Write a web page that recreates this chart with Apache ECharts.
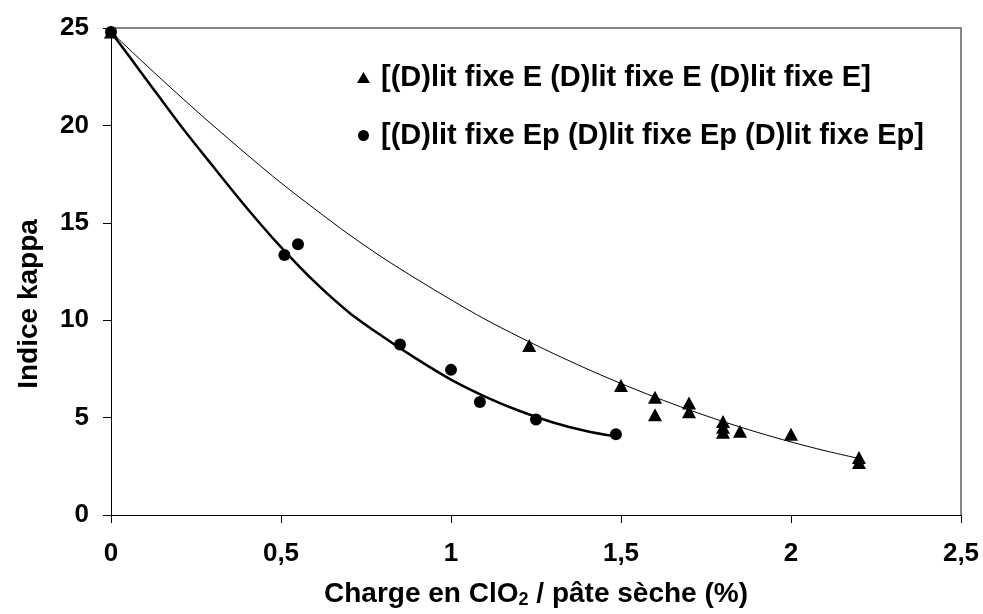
<!DOCTYPE html>
<html>
<head>
<meta charset="utf-8">
<script src="https://cdn.jsdelivr.net/npm/echarts@6/dist/echarts.min.js"></script>
<style>
  html, body { margin: 0; padding: 0; background: #fff; }
  #chart { width: 983px; height: 614px; }
</style>
</head>
<body>
<div id="chart"></div>
<script>
// axes
var xTicks = [0, 0.5, 1, 1.5, 2, 2.5];
var xTickLabels = ['0', '0,5', '1', '1,5', '2', '2,5'];
var yTicks = [0, 5, 10, 15, 20, 25];

// series names
var nameE = '[(D)lit fixe E (D)lit fixe E (D)lit fixe E]';
var nameEp = '[(D)lit fixe Ep (D)lit fixe Ep (D)lit fixe Ep]';

// points
var chargeE = [0, 1.23, 1.5, 1.6, 1.6, 1.7, 1.7, 1.8, 1.8, 1.8, 1.85, 2.0, 2.2, 2.2];
var kappaE = [24.8, 8.7, 6.65, 6.05, 5.15, 5.75, 5.3, 4.8, 4.5, 4.25, 4.3, 4.15, 2.95, 2.7];
var chargeEp = [0, 0.51, 0.55, 0.85, 1.0, 1.085, 1.25, 1.485];
var kappaEp = [24.8, 13.35, 13.9, 8.75, 7.45, 5.8, 4.9, 4.15];

// courbes de tendance
var trendEx = [0, 0.1, 0.2, 0.3, 0.4, 0.5, 0.6, 0.7, 0.8, 0.9, 1.0, 1.1, 1.2, 1.3, 1.4, 1.5, 1.6, 1.7, 1.8, 1.9, 2.0, 2.1, 2.2];
var trendEy = [24.8, 23.15, 21.55, 20.0, 18.5, 17.05, 15.7, 14.4, 13.2, 12.1, 11.05, 10.05, 9.15, 8.3, 7.5, 6.75, 6.05, 5.4, 4.8, 4.25, 3.75, 3.3, 2.9];
var trendEpx = [0, 0.1, 0.2, 0.3, 0.4, 0.5, 0.6, 0.7, 0.8, 0.9, 1.0, 1.1, 1.2, 1.3, 1.4, 1.48];
var trendEpy = [24.8, 22.45, 20.1, 17.9, 15.75, 13.75, 11.95, 10.4, 9.15, 8.0, 6.95, 6.08, 5.35, 4.75, 4.3, 4.05];

function pairs(xs, ys) {
    var out = [];
    for (var i = 0; i < xs.length; i++) {
        out.push([xs[i], ys[i]]);
    }
    return out;
}

var font = 'Liberation Sans, Arial, sans-serif';
var myChart = echarts.init(document.getElementById('chart'));

var option = {
    animation: false,
    grid: { left: 111, top: 28, right: 22, bottom: 98 },
    legend: {
        data: [nameE, nameEp],
        orient: 'vertical',
        left: 352,
        top: 58,
        itemGap: 29,
        itemWidth: 13,
        itemHeight: 11,
        textStyle: { fontFamily: font, fontSize: 29, fontWeight: 'bold', color: '#000', padding: [0, 0, 0, 6] }
    },
    graphic: [{
        type: 'text',
        x: 29,
        y: 304,
        rotation: Math.PI / 2,
        style: {
            text: 'Indice kappa',
            fontFamily: font,
            fontSize: 28,
            fontWeight: 'bold',
            fill: '#000',
            align: 'center',
            verticalAlign: 'middle'
        }
    }],
    xAxis: [{
        type: 'value',
        min: 0,
        max: 2.5,
        interval: 0.5,
        name: 'Charge en ClO{sub|2} / pâte sèche (%)',
        nameLocation: 'middle',
        nameGap: 64,
        nameTextStyle: {
            fontFamily: font, fontSize: 28, fontWeight: 'bold', color: '#000',
            rich: {
                sub: { fontFamily: font, fontSize: 18, fontWeight: 'bold', color: '#000', padding: [12, 0, 0, 0] }
            }
        },
        axisLine: { onZero: false, lineStyle: { color: '#000', width: 1 } },
        axisTick: { inside: false, length: 8, lineStyle: { color: '#000' } },
        splitLine: { show: false },
        axisLabel: {
            margin: 26,
            fontFamily: font, fontSize: 26, fontWeight: 'bold', color: '#000',
            formatter: function (v) {
                var i = xTicks.indexOf(Math.round(v * 10) / 10);
                return i >= 0 ? xTickLabels[i] : '';
            }
        }
    }, {
        type: 'value',
        position: 'top',
        min: 0,
        max: 2.5,
        axisLine: { show: true, onZero: false, lineStyle: { color: '#868686', width: 2 } },
        axisTick: { show: false },
        axisLabel: { show: false },
        splitLine: { show: false }
    }],
    yAxis: [{
        type: 'value',
        min: 0,
        max: 25,
        interval: 5,
        axisLine: { show: true, onZero: false, lineStyle: { color: '#000', width: 1 } },
        axisTick: { show: true, length: 8, lineStyle: { color: '#000' } },
        splitLine: { show: false },
        axisLabel: {
            margin: 22,
            fontFamily: font, fontSize: 26, fontWeight: 'bold', color: '#000',
            formatter: function (v) {
                return yTicks.indexOf(v) >= 0 ? String(v) : '';
            }
        }
    }, {
        type: 'value',
        position: 'right',
        min: 0,
        max: 25,
        axisLine: { show: true, onZero: false, lineStyle: { color: '#868686', width: 2 } },
        axisTick: { show: false },
        axisLabel: { show: false },
        splitLine: { show: false }
    }],
    series: [
        {
            name: 'tendance E',
            type: 'line',
            data: pairs(trendEx, trendEy),
            smooth: 0.3,
            symbol: 'none',
            lineStyle: { color: '#000', width: 1 },
            z: 2
        },
        {
            name: 'tendance Ep',
            type: 'line',
            data: pairs(trendEpx, trendEpy),
            smooth: 0.3,
            symbol: 'none',
            lineStyle: { color: '#000', width: 2.5 },
            z: 2
        },
        {
            name: nameE,
            type: 'scatter',
            data: pairs(chargeE, kappaE),
            symbol: 'triangle',
            symbolSize: [14, 13],
            itemStyle: { color: '#000', opacity: 1 },
            z: 3
        },
        {
            name: nameEp,
            type: 'scatter',
            data: pairs(chargeEp, kappaEp),
            symbol: 'circle',
            symbolSize: 12,
            itemStyle: { color: '#000', opacity: 1 },
            z: 3
        }
    ]
};

myChart.setOption(option);
</script>
</body>
</html>
